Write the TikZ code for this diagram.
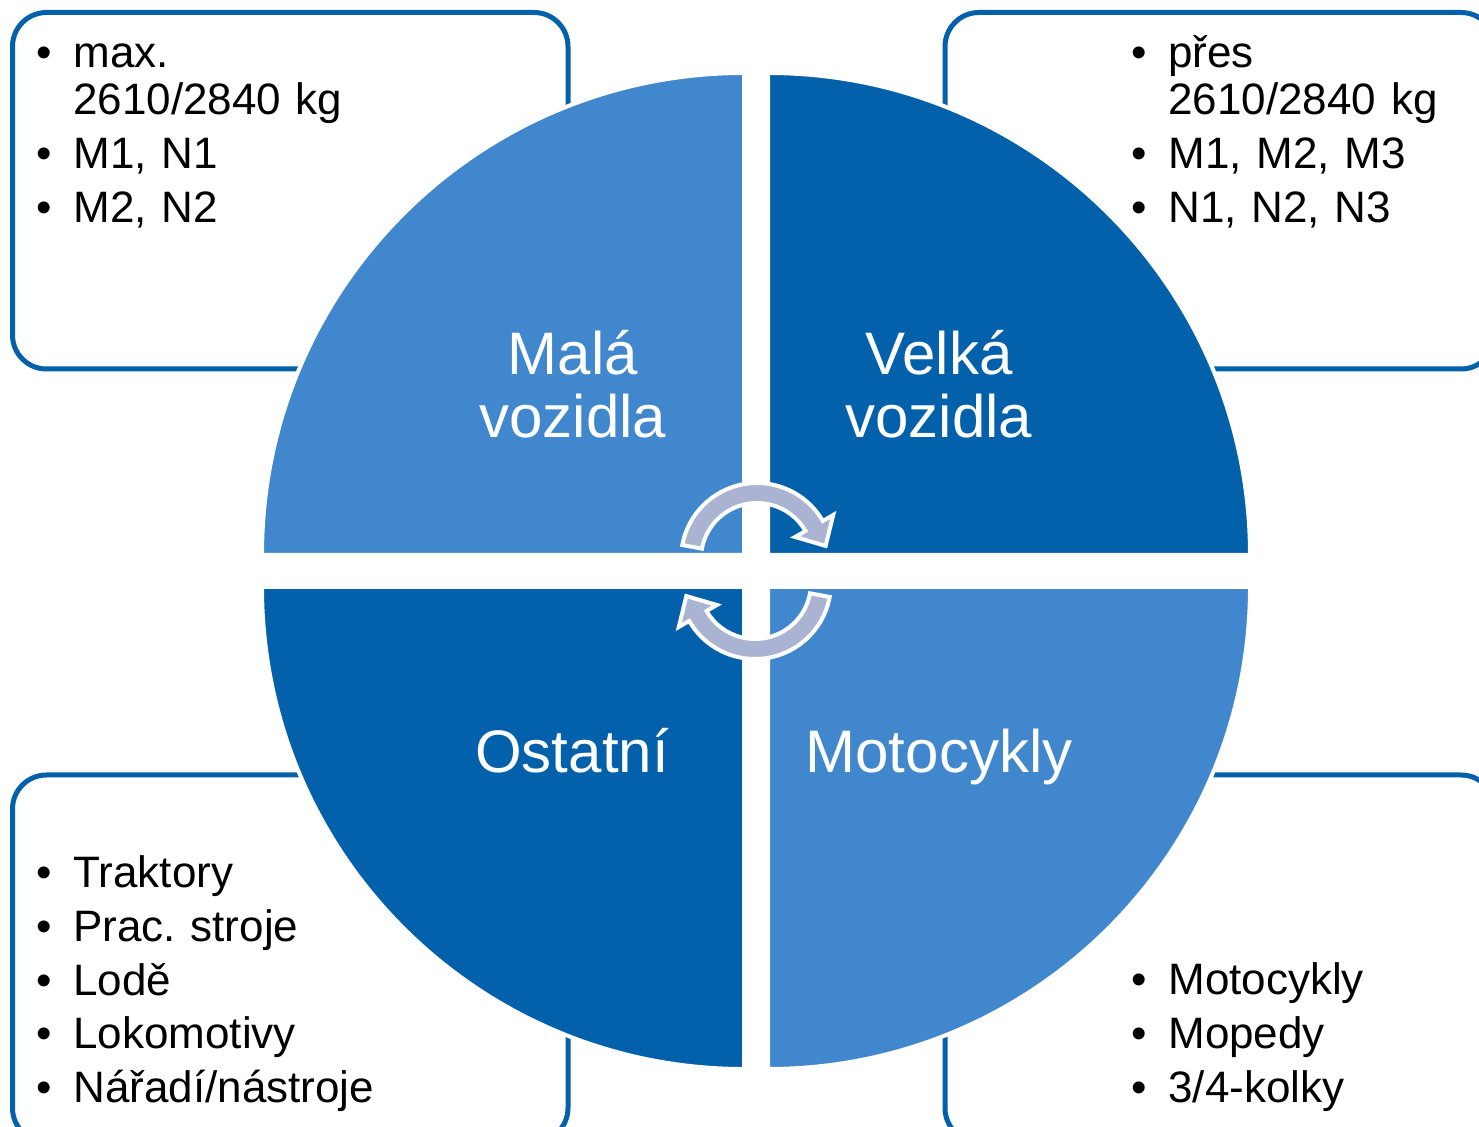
\documentclass[tikz,border=0pt]{standalone}
\usepackage{fontspec}
\setmainfont{Liberation Sans}
\usetikzlibrary{calc}

\definecolor{lightblue}{RGB}{65,135,205}
\definecolor{darkblue}{RGB}{3,96,170}
\definecolor{arrowgrey}{RGB}{170,180,210}
\newcommand{\bul}{\makebox[18.5pt][l]{\textbullet}}

\begin{document}
\begin{tikzpicture}[x=0.5pt, y=0.5pt,
    listbox/.style={draw=darkblue, line width=2.5pt, rounded corners=17pt},
    quarter/.style={draw=white, line width=2pt},
    biglabel/.style={anchor=base, text=white, text width=200pt, align=center, inner sep=0pt, font=\fontsize{30}{31.5}\selectfont},
    itemlist/.style={anchor=base west, text width=260pt, align=left, inner sep=0pt, font=\fontsize{22}{23.5}\selectfont},
    turn/.style={fill=arrowgrey, draw=white, line width=2pt}]

    % The frame
    \clip (0,0) rectangle (1479,-1127);

    % Boxes behind the circle
    \draw[listbox] (12.5,-12.5) rectangle (568,-369);
    \draw[listbox] (945,-12.5) rectangle (1495,-369);
    \draw[listbox] (12.5,-775) rectangle (568,-1142);
    \draw[listbox] (945,-775) rectangle (1495,-1142);

    % The circle in four quarters
    \filldraw[quarter, fill=lightblue] (744,-555) -- (262,-555) arc[start angle=180, end angle=90, radius=482] -- cycle;
    \filldraw[quarter, fill=darkblue] (768,-555) -- (768,-73) arc[start angle=90, end angle=0, radius=482] -- cycle;
    \filldraw[quarter, fill=darkblue] (744,-587) -- (744,-1069) arc[start angle=270, end angle=180, radius=482] -- cycle;
    \filldraw[quarter, fill=lightblue] (768,-587) -- (1250,-587) arc[start angle=0, end angle=-90, radius=482] -- cycle;

    % Names of the quarters
    \node[biglabel] (mala) at (573,-375) {Malá\\vozidla};
    \node[biglabel] (velka) at (939,-375) {Velká\\vozidla};
    \node[biglabel] (ostatni) at (572,-773) {Ostatní};
    \node[biglabel] (moto) at (939,-773) {Motocykly};

    % Lists in the boxes
    \node[itemlist] (malaList) at (36,-68) {\bul max.\\\hspace*{18.5pt}2610/2840 kg\\[3.3pt]\bul M1, N1\\[3.3pt]\bul M2, N2};
    \node[itemlist] (velkaList) at (1131,-68) {\bul přes\\\hspace*{18.5pt}2610/2840 kg\\[3.3pt]\bul M1, M2, M3\\[3.3pt]\bul N1, N2, N3};
    \node[itemlist] (ostatniList) at (36,-888) {\bul Traktory\\[3.3pt]\bul Prac.\ stroje\\[3.3pt]\bul Lodě\\[3.3pt]\bul Lokomotivy\\[3.3pt]\bul Nářadí/nástroje};
    \node[itemlist] (motoList) at (1131,-995) {\bul Motocykly\\[3.3pt]\bul Mopedy\\[3.3pt]\bul 3/4-kolky};

    % Turning arrows in the middle
    \coordinate (upper) at (757,-559);
    \coordinate (lower) at (755,-583);
    \filldraw[turn] ($(upper)+(169.4:76)$) arc[start angle=169.4, end angle=30, radius=76]
        -- ($(upper)+(30:88)$) -- ($(upper)+(30:66)+(-60:23)$) -- ($(upper)+(30:44)$)
        -- ($(upper)+(30:56)$) arc[start angle=30, end angle=169.4, radius=56] -- cycle;
    \filldraw[turn] ($(lower)+(-10.6:76)$) arc[start angle=-10.6, end angle=-150, radius=76]
        -- ($(lower)+(-150:88)$) -- ($(lower)+(-150:66)+(120:23)$) -- ($(lower)+(-150:44)$)
        -- ($(lower)+(-150:56)$) arc[start angle=-150, end angle=-10.6, radius=56] -- cycle;
\end{tikzpicture}
\end{document}
